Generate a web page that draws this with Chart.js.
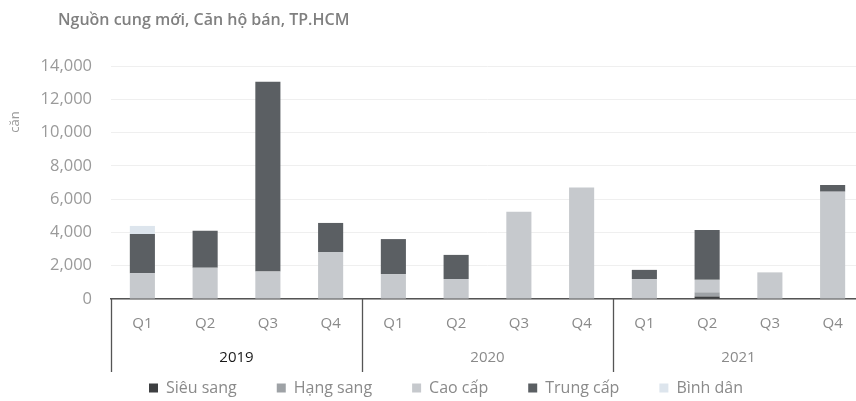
<!DOCTYPE html>
<html>
<head>
<meta charset="utf-8">
<script src="https://cdn.jsdelivr.net/npm/chart.js@4/dist/chart.umd.min.js"></script>
<style>
html,body{margin:0;padding:0;overflow:hidden;background:#fff;width:856px;height:401px;}
#wrap{position:absolute;left:0;top:0;width:866px;height:401px;}
</style>
</head>
<body>
<div id="wrap"><canvas id="c"></canvas></div>
<script>
const quarters = ['Q1','Q2','Q3','Q4','Q1','Q2','Q3','Q4','Q1','Q2','Q3','Q4'];
const years = ['2019','2020','2021'];
const yTicks = [0,2000,4000,6000,8000,10000,12000,14000];
const sieuSang = [0,0,0,0, 0,0,0,0, 0,150,0,0];
const hangSang = [0,0,0,0, 0,0,0,0, 0,250,0,0];
const caoCap   = [1550,1880,1650,2820, 1500,1200,5250,6700, 1200,750,1600,6450];
const trungCap = [2350,2220,11400,1750, 2100,1450,0,0, 550,3000,0,400];
const binhDan  = [490,0,0,0, 0,0,0,0, 0,0,0,0];
const seriesNames = ['Siêu sang','Hạng sang','Cao cấp','Trung cấp','Bình dân'];
const titleText = 'Nguồn cung mới, Căn hộ bán, TP.HCM';
const yTitle = 'căn';

const colors = ['#3d3f41','#9ea2a6','#c6c9cd','#5b5f63','#dde5ed'];
const seriesData = [sieuSang,hangSang,caoCap,trungCap,binhDan];

const FONT = '"Open Sans", "DejaVu Sans", sans-serif';

const decor = {
  id:'decor',
  beforeInit(chart){
    const lg = chart.legend;
    const orig = lg.fit;
    lg.fit = function(){ orig.call(this); this.height = 27; };
  },
  afterLayout(chart){
    const lg = chart.legend;
    lg.top = 388 - 8 - lg.options.labels.padding;
    lg.left += 14; lg.right += 14;
  },
  afterDraw(chart){
    const ctx = chart.ctx;
    const x2 = chart.scales.x2;
    const area = chart.chartArea;
    ctx.save();
    ctx.strokeStyle = '#555';
    ctx.lineWidth = 1.3;
    const w = (x2.right - x2.left)/years.length;
    for(let i=0;i<=years.length;i++){
      const x = Math.round(x2.left + i*w)+0.5;
      ctx.beginPath();
      ctx.moveTo(x, area.bottom);
      ctx.lineTo(x, 372);
      ctx.stroke();
    }
    ctx.fillStyle = '#808080';
    ctx.font = '600 16px ' + FONT;
    ctx.textBaseline = 'middle';
    ctx.textAlign = 'left';
    ctx.fillText(titleText, 58, 20);
    ctx.translate(15, 122);
    ctx.rotate(-Math.PI/2);
    ctx.font = '13px ' + FONT;
    ctx.fillStyle = '#9a9a9a';
    ctx.textAlign = 'center';
    ctx.fillText(yTitle, 0, 0);
    ctx.restore();
  }
};

new Chart(document.getElementById('c'), {
  type:'bar',
  data:{
    labels: quarters,
    datasets: seriesNames.map((n,i)=>({
      label:n, data:seriesData[i], backgroundColor:colors[i],
      borderWidth:0, barPercentage:0.4, categoryPercentage:1.0, xAxisID:'x'
    }))
  },
  options:{
    responsive:true, maintainAspectRatio:false, animation:false,
    layout:{padding:{top:66,left:0,right:2,bottom:0}},
    plugins:{
      title:{display:false},
      tooltip:{enabled:false},
      legend:{
        position:'bottom',
        labels:{
          boxWidth:9, boxHeight:9, padding:40,
          color:'#8a8a8a',
          font:{family:FONT,size:16}
        }
      }
    },
    scales:{
      x:{
        type:'category', stacked:true, offset:true,
        grid:{display:false},
        border:{display:true,color:'#555',width:1.5},
        ticks:{color:'#8a8a8a',font:{family:FONT,size:15},padding:8,maxRotation:0,autoSkip:false},
        afterFit(s){ s.height = 42; }
      },
      x2:{
        type:'category', labels:years, offset:true, position:'bottom',
        grid:{display:false}, border:{display:false},
        ticks:{color:(c)=> c.index===0 ? '#1a1a1a' : '#8a8a8a', font:{family:FONT,size:15},padding:0,maxRotation:0},
        afterFit(s){ s.height = 33; }
      },
      y:{
        stacked:true, min:0, max:14000,
        afterBuildTicks(s){ s.ticks = yTicks.map(v=>({value:v})); },
        grid:{color:'#efefef', drawTicks:false},
        border:{display:false},
        ticks:{color:'#9a9a9a',font:{family:FONT,size:16.5},padding:19,
          callback:(v)=> v.toLocaleString('en-US')},
        afterFit(s){ s.width = 111; }
      }
    }
  },
  plugins:[decor]
});
</script>
</body>
</html>
